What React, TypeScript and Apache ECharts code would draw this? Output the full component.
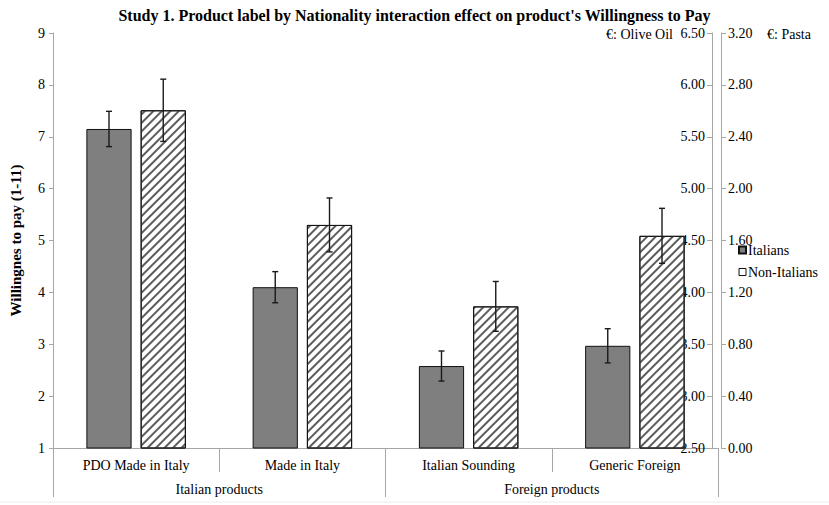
import React, { useEffect, useRef } from "react";
import * as echarts from "echarts";

const categories = ["PDO Made in Italy", "Made in Italy", "Italian Sounding", "Generic Foreign"];
const groups = ["Italian products", "Foreign products"];
const italians = [7.15, 4.1, 2.58, 2.97];
const nonItalians = [7.51, 5.3, 3.73, 5.09];
const italiansErr = [0.34, 0.3, 0.29, 0.33];
const nonItaliansErr = [0.6, 0.52, 0.48, 0.53];

const FONT = "'Liberation Serif', 'Times New Roman', serif";
const AXIS_COLOR = "#a6a6a6";
const BAR_W = 0.272;
const BAR_GAP = 0.2;

function errorSeries(name: string, values: number[], errs: number[], side: number) {
  return {
    type: "custom",
    name,
    xAxisIndex: 0,
    yAxisIndex: 0,
    z: 5,
    silent: true,
    encode: { x: 0, y: 1 },
    data: values.map((v, i) => [i, v, errs[i]]),
    renderItem: (params: any, api: any) => {
      const idx = api.value(0);
      const v = api.value(1);
      const e = api.value(2);
      const band = api.size([1, 0])[0];
      const bw = band * BAR_W;
      const off = side * (bw + bw * BAR_GAP) / 2;
      const top = api.coord([idx, v + e]);
      const bot = api.coord([idx, v - e]);
      const x = top[0] + off;
      const cap = 3;
      const st = { stroke: "#1a1a1a", lineWidth: 1.4 };
      return {
        type: "group",
        children: [
          { type: "line", shape: { x1: x, y1: top[1], x2: x, y2: bot[1] }, style: st },
          { type: "line", shape: { x1: x - cap, y1: top[1], x2: x + cap, y2: top[1] }, style: st },
          { type: "line", shape: { x1: x - cap, y1: bot[1], x2: x + cap, y2: bot[1] }, style: st },
        ],
      };
    },
  };
}

export default function App() {
  const ref = useRef<HTMLDivElement>(null);
  useEffect(() => {
    if (!ref.current) return;
    const chart = echarts.init(ref.current, undefined, { renderer: "svg" });
    const labelStyle = { color: "#000", fontFamily: FONT, fontSize: 14 };
    chart.setOption({
      animation: false,
      backgroundColor: "#fff",
      title: {
        text: "Study 1. Product label by Nationality interaction effect on product's Willingness to Pay",
        left: "center",
        top: 2,
        textStyle: { fontFamily: FONT, fontSize: 16, fontWeight: "bold", color: "#000" },
      },
      legend: {
        orient: "vertical",
        left: 733,
        top: 238,
        itemWidth: 7,
        itemHeight: 7,
        itemGap: 8,
        icon: "rect",
        data: [
          { name: "Italians" },
          { name: "Non-Italians", itemStyle: { color: "#fff", decal: "none", borderColor: "#111", borderWidth: 1 } },
        ],
        textStyle: { fontFamily: FONT, fontSize: 14, color: "#000", padding: [0, 0, 0, -3] },
      },
      grid: { left: 48, right: 111, top: 33, bottom: 57, containLabel: false },
      xAxis: [
        {
          type: "category",
          data: categories,
          position: "bottom",
          axisLine: { show: true, lineStyle: { color: AXIS_COLOR, width: 1 } },
          axisTick: { show: true, length: 24, alignWithLabel: false, lineStyle: { color: AXIS_COLOR } },
          axisLabel: { ...labelStyle, margin: 10, interval: 0 },
          splitLine: { show: false },
        },
        {
          type: "category",
          data: groups,
          position: "bottom",
          offset: 0,
          axisLine: { show: false },
          axisTick: { show: true, length: 49, alignWithLabel: false, lineStyle: { color: AXIS_COLOR } },
          axisLabel: { ...labelStyle, margin: 34, interval: 0 },
          splitLine: { show: false },
        },
      ],
      yAxis: [
        {
          type: "value",
          min: 1,
          max: 9,
          interval: 1,
          position: "left",
          name: "Willingnes to pay (1-11)",
          nameLocation: "middle",
          nameGap: 30,
          nameRotate: 90,
          nameTextStyle: { fontFamily: FONT, fontSize: 15, fontWeight: "bold", color: "#000" },
          axisLine: { show: true, lineStyle: { color: AXIS_COLOR } },
          axisTick: { show: true, length: 4, lineStyle: { color: AXIS_COLOR } },
          axisLabel: { ...labelStyle, margin: 8 },
          splitLine: { show: false },
        },
        {
          type: "value",
          min: 2.5,
          max: 6.5,
          interval: 0.5,
          position: "right",
          offset: -6,
          axisLine: { show: true, onZero: false, lineStyle: { color: AXIS_COLOR } },
          axisTick: { show: true, inside: true, length: 5, lineStyle: { color: AXIS_COLOR } },
          axisLabel: { ...labelStyle, inside: true, margin: 7, formatter: (v: number) => v.toFixed(2) },
          splitLine: { show: false },
        },
        {
          type: "value",
          min: 0,
          max: 3.2,
          interval: 0.4,
          position: "right",
          offset: 3,
          axisLine: { show: true, onZero: false, lineStyle: { color: AXIS_COLOR } },
          axisTick: { show: true, length: 5, lineStyle: { color: AXIS_COLOR } },
          axisLabel: { ...labelStyle, margin: 7, formatter: (v: number) => v.toFixed(2) },
          splitLine: { show: false },
        },
      ],
      graphic: [
        {
          type: "text",
          x: 673,
          y: 34,
          style: { text: "€: Olive Oil", align: "right", verticalAlign: "middle", fontFamily: FONT, fontSize: 14, fill: "#000" },
        },
        {
          type: "text",
          x: 767,
          y: 34,
          style: { text: "€: Pasta", align: "left", verticalAlign: "middle", fontFamily: FONT, fontSize: 14, fill: "#000" },
        },
        {
          type: "line",
          shape: { x1: 0, y1: 502, x2: 829, y2: 502 },
          style: { stroke: "#ececec", lineWidth: 1 },
        },
      ],
      series: [
        {
          type: "bar",
          name: "Italians",
          data: italians,
          barWidth: BAR_W * 100 + "%",
          barGap: BAR_GAP * 100 + "%",
          itemStyle: { color: "#7f7f7f", borderColor: "#111", borderWidth: 1 },
        },
        {
          type: "bar",
          name: "Non-Italians",
          data: nonItalians,
          barWidth: BAR_W * 100 + "%",
          barGap: BAR_GAP * 100 + "%",
          itemStyle: {
            color: "#fff",
            borderColor: "#111",
            borderWidth: 1,
            decal: {
              symbol: "rect",
              dashArrayX: [1, 0],
              dashArrayY: [1.8, 3.2],
              rotation: -Math.PI / 4,
              color: "#5c5c5c",
            },
          },
        },
        errorSeries("errIt", italians, italiansErr, -1),
        errorSeries("errNonIt", nonItalians, nonItaliansErr, 1),
      ],
    });
    return () => chart.dispose();
  }, []);
  return (
    <div
      ref={ref}
      style={{ position: "fixed", left: 0, top: 0, width: 829, height: 505 }}
    />
  );
}
